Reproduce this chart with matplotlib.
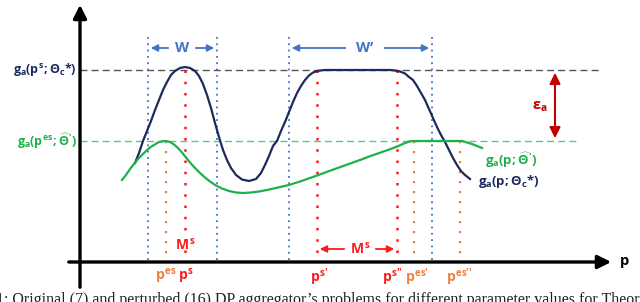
import matplotlib
matplotlib.use('Agg')
import matplotlib.pyplot as plt

#%% <style>
plt.rcParams['mathtext.fontset'] = 'custom'
plt.rcParams['mathtext.rm'] = 'Open Sans:bold'
plt.rcParams['mathtext.it'] = 'Open Sans:bold'
plt.rcParams['mathtext.bf'] = 'Open Sans:bold'
plt.rcParams['font.family'] = ['Open Sans', 'DejaVu Sans']

NAVY = '#1c2a5e'
GREEN = '#1db04c'
RED = '#ff1a1a'
ORANGE = '#f07f3c'
BLUE = '#4472c4'
DARKRED = '#c00000'

#%% <data> (diagram units)
navy_x = [135, 139, 143, 147, 151, 155, 159, 163, 167, 171, 175, 180, 185,
          190, 195, 199, 203, 207, 211, 215, 219, 223, 227, 231, 236, 242, 249,
          256, 261, 265, 269, 273, 277, 281, 285, 289, 293, 297, 301, 305, 309,
          313, 318, 325, 390, 395, 400, 405, 409, 413, 417, 421, 425, 429, 433,
          437, 441, 445, 449, 453, 457, 461, 465, 470]
navy_y = [163, 153, 141, 131, 121, 110, 100, 90, 82, 75, 71, 68, 67,
          68, 71, 76, 84, 95, 108, 123, 137, 150, 160, 168, 175, 179.5, 181,
          179, 173, 165, 156, 146, 141, 131, 122, 112, 102, 93, 86, 80, 75.5,
          72.5, 70.8, 70, 70, 70.5, 71.5, 73.5, 77, 80, 86, 93, 100, 109, 118,
          127, 135, 142, 150, 158, 165, 171, 175, 179]

green_x = [122, 126, 130, 134, 138, 142, 146, 150, 154, 158, 162, 166, 170, 174,
           178, 182, 186, 190, 195, 200, 205, 210, 216, 222, 229, 236, 243, 251,
           259, 267, 278, 289, 303, 317, 332, 346, 360, 372, 385, 396, 404, 410,
           416, 440, 462, 472, 482]
green_y = [180, 175, 169, 164, 159, 155, 151, 147.5, 145, 142.5, 141.3, 141, 142,
           144.5, 148, 152.5, 157.5, 162.5, 168, 173, 177.5, 181.5, 185.5, 188.5,
           191, 192.5, 193, 192.5, 191.5, 190, 187.5, 185, 180.5, 175.5, 170, 165,
           160, 155.5, 151, 147, 143.5, 141.3, 141, 141, 141, 144, 148]

level_star = 70      # g_a(p^s; Theta_c*)
level_hat = 141      # g_a(p^es; Theta_hat')
axis_y = 262
axis_x = 80

blue_lines = [148, 217, 289, 432]
red_lines = [185, 317, 397]
orange_lines = [166, 414, 460]

bottom_labels = [(166, r'$p^{es}$', ORANGE), (186, r'$p^{s}$', RED),
                 (319, r'$p^{s\prime}$', RED), (392, r'$p^{s\prime\prime}$', RED),
                 (417, r'$p^{es\prime}$', ORANGE), (459, r'$p^{es\prime\prime}$', ORANGE)]

#%% <plot>
fig = plt.figure(figsize=(6.4, 3.02), dpi=100)
ax = fig.add_axes([0, 0, 1, 1])
ax.set_xlim(0, 640)
ax.set_ylim(302, 0)
ax.axis('off')

# reference levels
ax.plot([axis_x, 600], [level_star] * 2, ls=(0, (5, 3)), color='#555555', lw=1.0)
ax.plot([axis_x, 578], [level_hat] * 2, ls=(0, (5, 3)), color='#5cc97a', lw=1.0)

# dotted verticals
for xv in blue_lines:
    ax.plot([xv, xv], [37, axis_y], ls=(0, (1, 2.5)), color=BLUE, lw=1.3)
for xv in red_lines:
    ax.plot([xv, xv], [level_star, axis_y], ls=(0, (1, 3.5)), color=RED, lw=1.8)
for xv in orange_lines:
    ax.plot([xv, xv], [level_hat, axis_y], ls=(0, (1, 3.5)), color=ORANGE, lw=1.6)

# curves
ax.plot(navy_x, navy_y, color=NAVY, lw=1.6, solid_joinstyle='round')
ax.plot(green_x, green_y, color=GREEN, lw=1.6, solid_joinstyle='round')

# axes
ax.annotate('', xy=(axis_x, 2), xytext=(axis_x, 290),
            arrowprops=dict(arrowstyle='-|>', lw=2.4, color='k', mutation_scale=20))
ax.annotate('', xy=(614, axis_y), xytext=(66, axis_y),
            arrowprops=dict(arrowstyle='-|>', lw=2.4, color='k', mutation_scale=20))
ax.text(619, axis_y, r'$p$', fontsize=10.5, ha='left', va='center', color='k')

# W, W' and M^s spans
def span(x0, x1, xt, y, label, color, gap, size=10.5):
    ax.text(xt, y, label, fontsize=size, ha='center', va='center', color=color,
            fontweight='bold')
    kw = dict(arrowstyle='-|>', lw=1.3, color=color, mutation_scale=10)
    ax.annotate('', xy=(x0, y), xytext=(xt - gap, y), arrowprops=kw)
    ax.annotate('', xy=(x1, y), xytext=(xt + gap, y), arrowprops=kw)

span(148, 217, 182, 48, 'W', BLUE, 11)
span(289, 432, 365, 48, 'W\u2019', BLUE, 17)
span(317, 397, 360, 249, r'$M^s$', RED, 13, 10)

ax.text(185, 246, r'$M^s$', fontsize=10, ha='center', va='center', color=RED)

# epsilon arrow
ax.annotate('', xy=(555, level_star), xytext=(555, level_hat),
            arrowprops=dict(arrowstyle='<|-|>', lw=1.5, color=DARKRED, mutation_scale=16))
ax.text(540, 106, r'$\epsilon_a$', fontsize=10.5, ha='center', va='center', color=DARKRED)

# level labels
ax.text(77, level_star, r'$g_a(p^s;\Theta_c{*})$', fontsize=9, ha='right',
        va='center', color=NAVY)
ax.text(77, level_hat, r"$g_a(p^{es};\widehat{\Theta}')$", fontsize=9, ha='right',
        va='center', color=GREEN)
ax.text(485, 160, r"$g_a(p;\widehat{\Theta}')$", fontsize=9.5, ha='left',
        va='center', color=GREEN)
ax.text(478, 181, r'$g_a(p;\Theta_c{*})$', fontsize=9.5, ha='left',
        va='center', color=NAVY)

for xv, lab, col in bottom_labels:
    ax.text(xv, 277, lab, fontsize=10, ha='center', va='center', color=col)

# caption (cut off at the bottom edge)
ax.text(-4, 292, "1: Original (7) and perturbed (16) DP aggregator\u2019s problems for "
        "different parameter values for Theorem", fontsize=11.5, ha='left', va='top',
        family='Liberation Serif', color='#222222')

fig.savefig('out.png', dpi=100)
